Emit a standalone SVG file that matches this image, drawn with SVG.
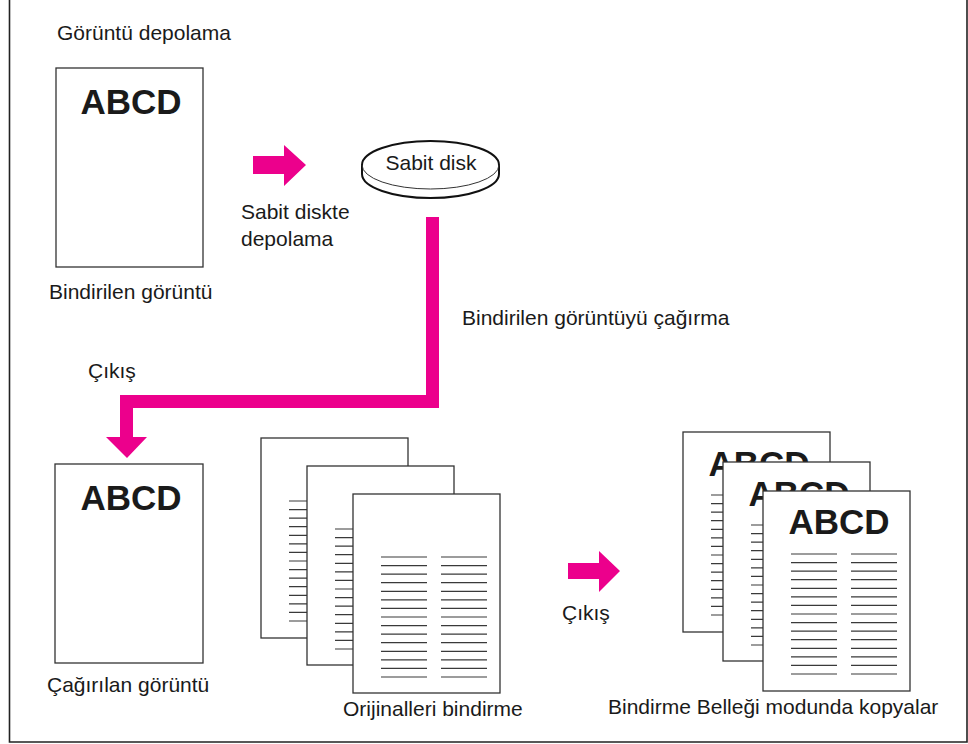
<svg xmlns="http://www.w3.org/2000/svg" width="968" height="744" viewBox="0 0 968 744">
<style>
  text { font-family: "Liberation Sans", Arial, Helvetica, sans-serif; fill: #1a1a1a; }
  .lbl { font-size: 21px; }
  .big { font-size: 35px; font-weight: bold; text-anchor: middle; }
  .page { fill: #fff; stroke: #333; stroke-width: 1.3; }
  .cols { fill: none; stroke: #3a3a3a; stroke-width: 1.2; }
  .mag { fill: #EC008C; stroke: none; }
  .frame { fill: none; stroke: #222; stroke-width: 1.6; }
</style>
<defs>
  <path id="cols" class="cols" d="M28 63h46m14 0h46M28 71.6h46m14 0h46M28 80.1h46m14 0h46M28 88.7h46m14 0h46M28 97.3h46m14 0h46M28 105.9h46m14 0h46M28 114.4h46m14 0h46M28 123h46m14 0h46M28 131.6h46m14 0h46M28 140.1h46m14 0h46M28 148.7h46m14 0h46M28 157.3h46m14 0h46M28 165.9h46m14 0h46M28 174.4h46m14 0h46M28 183h46m14 0h46"/>
</defs>
<rect width="968" height="744" fill="#fff"/>
<path class="frame" d="M9.5 0V742H967V0"/>

<g id="doc-stored">
  <text class="lbl" x="57" y="40">Görüntü depolama</text>
  <rect class="page" x="56" y="68" width="147" height="199"/>
  <text class="big" x="131" y="114">ABCD</text>
  <text class="lbl" x="49" y="299">Bindirilen görüntü</text>
</g>

<g id="disk">
  <path d="M362 165A68.5 24 0 0 1 499 165V174A68.5 24 0 0 1 362 174Z" fill="#fff" stroke="#111" stroke-width="2"/>
  <path d="M362 165A68.5 24 0 0 0 499 165" fill="none" stroke="#333" stroke-width="1"/>
  <text class="lbl" x="431" y="170" text-anchor="middle">Sabit disk</text>
</g>

<g id="doc-recalled">
  <rect class="page" x="55" y="464" width="148" height="199"/>
  <text class="big" x="131" y="510">ABCD</text>
  <text class="lbl" x="47" y="692">Çağırılan görüntü</text>
</g>

<g id="originals">
  <rect class="page" x="261" y="438" width="147" height="200"/>
  <use href="#cols" x="261" y="438"/>
  <rect class="page" x="307" y="466" width="147" height="199"/>
  <use href="#cols" x="307" y="466"/>
  <rect class="page" x="353" y="494" width="147" height="199"/>
  <use href="#cols" x="353" y="494"/>
  <text class="lbl" x="343" y="716">Orijinalleri bindirme</text>
</g>

<g id="copies">
  <rect class="page" x="683" y="432" width="147" height="200"/>
  <text class="big" x="759" y="476">ABCD</text>
  <use href="#cols" x="683" y="432"/>
  <rect class="page" x="723" y="462" width="147" height="199"/>
  <text class="big" x="799" y="506">ABCD</text>
  <use href="#cols" x="723" y="462"/>
  <rect class="page" x="763" y="491" width="147" height="200"/>
  <text class="big" x="839" y="534">ABCD</text>
  <use href="#cols" x="763" y="491"/>
  <text class="lbl" x="608" y="714">Bindirme Belleği modunda kopyalar</text>
</g>

<g id="connectors">
  <polygon class="mag" points="253,156 284,156 284,145 306,165 284,186 284,174 253,174"/>
  <text class="lbl" x="241" y="219">Sabit diskte</text>
  <text class="lbl" x="241" y="246">depolama</text>
  <polygon class="mag" points="426,217 439,217 439,408 133,408 133,437 147,437 127,458 106,437 120,437 120,395 426,395"/>
  <text class="lbl" x="462" y="325">Bindirilen görüntüyü çağırma</text>
  <text class="lbl" x="88" y="378">Çıkış</text>
  <polygon class="mag" points="568,563 599,563 599,551 620,571 599,592 599,579 568,579"/>
  <text class="lbl" x="562" y="620">Çıkış</text>
</g>
</svg>
